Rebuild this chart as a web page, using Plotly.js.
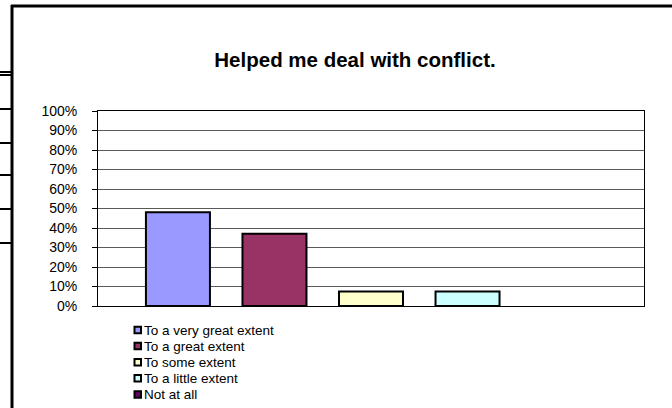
<!DOCTYPE html>
<html>
<head>
<meta charset="utf-8">
<script src="https://cdn.plot.ly/plotly-3.0.1.min.js"></script>
<style>
html,body{margin:0;padding:0;background:#fff;}
#chart{width:672px;height:408px;}
</style>
</head>
<body>
<div id="chart"></div>
<script>
// ---- data ----
const chartTitle = 'Helped me deal with conflict.';
const categories = ['Helped me deal with conflict.'];
const seriesNames = ['To a very great extent', 'To a great extent', 'To some extent', 'To a little extent', 'Not at all'];
const seriesValues = [0.481, 0.370, 0.074, 0.074, 0];
const seriesColors = ['#9999FF', '#993366', '#FFFFCC', '#CCFFFF', '#660066'];
const yTickValues = [0, 0.1, 0.2, 0.3, 0.4, 0.5, 0.6, 0.7, 0.8, 0.9, 1.0];

// ---- layout geometry (pixels) ----
const W = 672, H = 408;
const M = {l: 98, r: 28, t: 111, b: 102};
const PW = W - M.l - M.r, PH = H - M.t - M.b;
const px = x => (x - M.l) / PW;
const py = y => (H - M.b - y) / PH;

const traces = seriesNames.map((name, i) => ({
  type: 'bar',
  name: name,
  x: categories,
  y: [seriesValues[i]],
  marker: {color: seriesColors[i], line: {color: '#000000', width: seriesValues[i] > 0 ? 2 : 0}},
  showlegend: false,
  hoverinfo: 'none'
}));

const shapes = [];
const annotations = [];

// outer chart frame (top and left edges)
shapes.push({type: 'line', xref: 'paper', yref: 'paper', x0: px(11), x1: px(672), y0: py(6), y1: py(6), line: {color: '#000', width: 3}});
shapes.push({type: 'line', xref: 'paper', yref: 'paper', x0: px(12), x1: px(12), y0: py(5), y1: py(408), line: {color: '#000', width: 3}});
// spreadsheet cell borders peeking out at left
const cellLines = [72, 75, 109, 143, 175, 209, 243];
cellLines.forEach((y) => {
  shapes.push({type: 'line', xref: 'paper', yref: 'paper', x0: px(0), x1: px(11), y0: py(y), y1: py(y), line: {color: '#000', width: 2}});
});

// custom legend (Excel style, tight rows)
seriesNames.forEach((name, i) => {
  const cy = 330 + 16.1 * i;
  shapes.push({type: 'rect', xref: 'paper', yref: 'paper', x0: px(134.5), x1: px(141), y0: py(cy - 3.25), y1: py(cy + 3.25),
    fillcolor: seriesColors[i], line: {color: '#000', width: 2}});
  annotations.push({xref: 'paper', yref: 'paper', x: px(142), y: py(cy), xanchor: 'left', yanchor: 'middle',
    text: name, showarrow: false, font: {family: 'Liberation Sans, Arial, sans-serif', size: 13.5, color: '#000'}});
});

const layout = {
  width: W, height: H,
  margin: M,
  paper_bgcolor: '#ffffff',
  plot_bgcolor: '#ffffff',
  font: {family: 'Liberation Sans, Arial, sans-serif', color: '#000'},
  title: {
    text: '<b>' + chartTitle + '</b>',
    xref: 'container', yref: 'container',
    x: 355 / W, xanchor: 'center',
    y: 1 - 60 / H, yanchor: 'middle',
    font: {family: 'Liberation Sans, Arial, sans-serif', size: 20.5, color: '#000'}
  },
  barmode: 'group',
  bargap: 0.116,
  bargroupgap: 0.337,
  xaxis: {
    type: 'category',
    range: [-0.5, 0.5],
    showticklabels: false,
    ticks: '',
    showgrid: false,
    showline: true, linecolor: '#000', linewidth: 1, mirror: true,
    zeroline: false, fixedrange: true
  },
  yaxis: {
    range: [0, 1],
    tickvals: yTickValues,
    tickformat: '.0%',
    ticks: 'outside', ticklen: 5, tickcolor: '#000', tickwidth: 1,
    ticklabelstandoff: 12,
    tickfont: {family: 'Liberation Sans, Arial, sans-serif', size: 14, color: '#000'},
    showgrid: true, gridcolor: '#5a5a5a', gridwidth: 1,
    showline: true, linecolor: '#000', linewidth: 1, mirror: true,
    zeroline: false, fixedrange: true
  },
  shapes: shapes,
  annotations: annotations,
  showlegend: false
};

Plotly.newPlot('chart', traces, layout, {staticPlot: true, displayModeBar: false});
</script>
</body>
</html>
